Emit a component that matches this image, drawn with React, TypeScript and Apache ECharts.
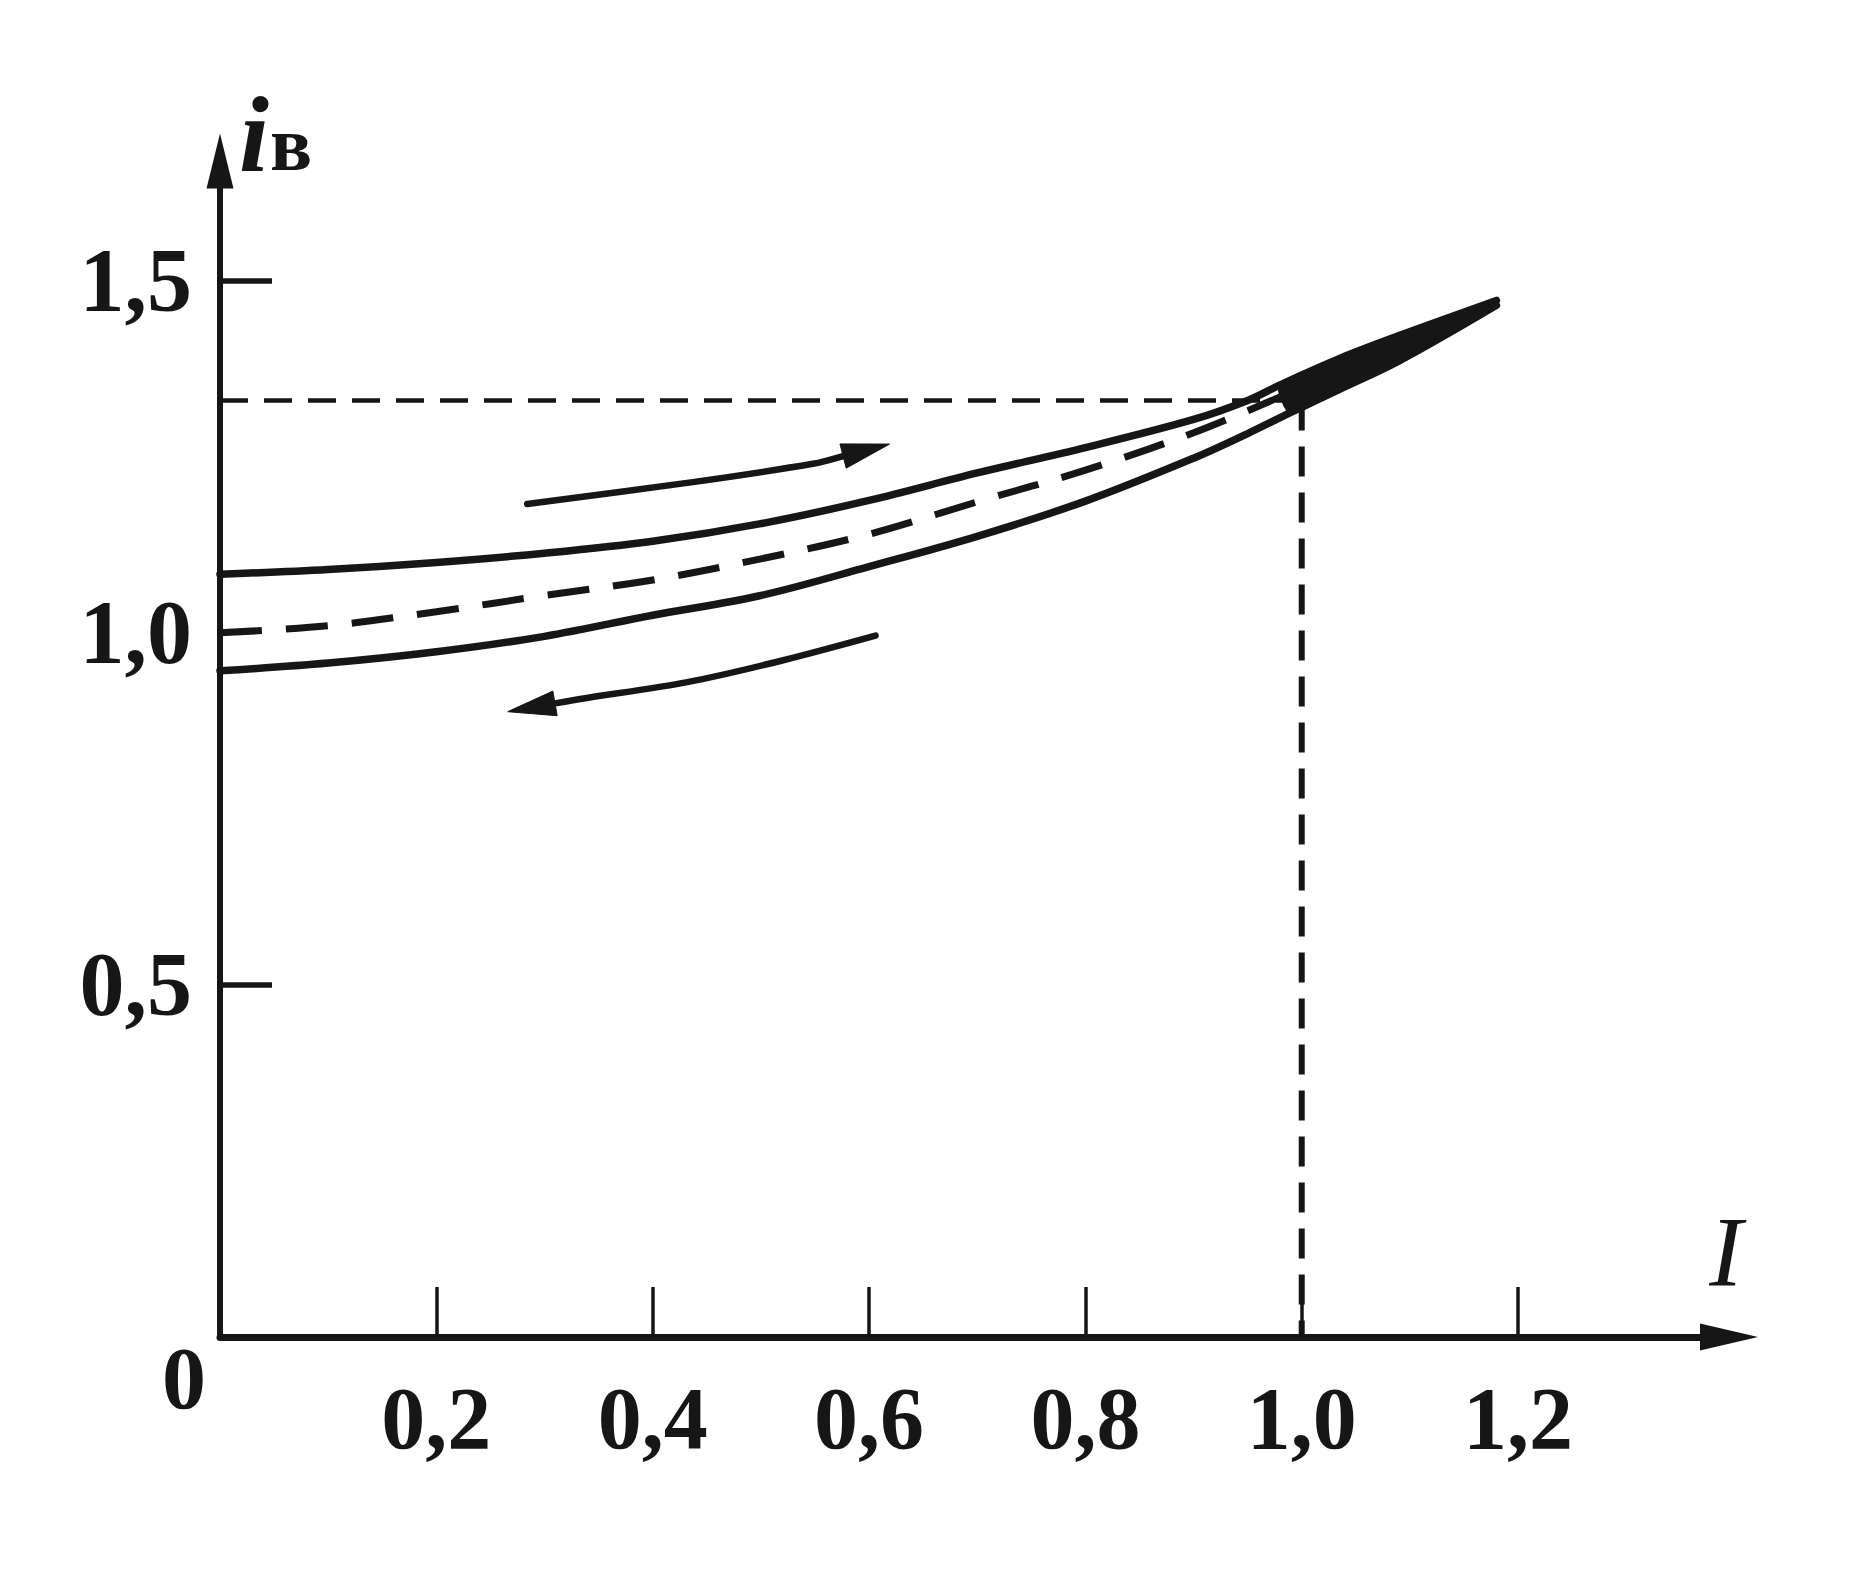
import React, { useEffect, useRef } from "react";
import * as echarts from "echarts";

// Tick values and labels
const X_TICKS = [0.2, 0.4, 0.6, 0.8, 1.0, 1.2];
const Y_TICKS = [0.5, 1.5];
const Y_LABELS = [0.5, 1.0, 1.5];

// Rising branch (upper solid curve) [I, iв]
const RISING = [
  [0, 1.083], [0.1, 1.09], [0.2, 1.1], [0.3, 1.113], [0.4, 1.13], [0.5, 1.155],
  [0.6, 1.188], [0.7, 1.227], [0.8, 1.263], [0.9, 1.303], [0.95, 1.33], [0.98, 1.352],
  [1.034, 1.389], [1.09, 1.422], [1.18, 1.472],
];
// Falling branch (lower solid curve)
const FALLING = [
  [0, 0.946], [0.1, 0.957], [0.2, 0.973], [0.3, 0.995], [0.4, 1.025], [0.5, 1.053],
  [0.6, 1.094], [0.7, 1.137], [0.8, 1.187], [0.9, 1.248], [0.95, 1.283], [0.99, 1.313],
  [1.034, 1.345], [1.09, 1.386], [1.18, 1.465],
];
// Middle (dashed) curve
const MIDDLE = [
  [0, 1.0], [0.1, 1.01], [0.2, 1.03], [0.3, 1.053], [0.4, 1.075], [0.5, 1.105],
  [0.6, 1.14], [0.7, 1.186], [0.8, 1.231], [0.9, 1.284], [0.98, 1.335],
];
// Operating point guide lines
const H_GUIDE = [[0, 1.33], [1.0, 1.33]];
const V_GUIDE = [[1.0, 1.33], [1.0, 0]];
// Direction arrows (last point = tip)
const ARROW_UP = [[0.284, 1.183], [0.437, 1.214], [0.548, 1.24], [0.619, 1.268]];
const ARROW_DOWN = [[0.606, 0.996], [0.518, 0.96], [0.432, 0.93], [0.333, 0.906], [0.266, 0.888]];
const ARROWS = [ARROW_UP, ARROW_DOWN];
// Spike region start
const SPIKE_FROM = 0.98;

const INK = "#161616";
const SERIF = "'Liberation Serif', 'DejaVu Serif', serif";
const fmt = (v: number) => v.toFixed(1).replace(".", ",");

export default function App() {
  const ref = useRef<HTMLDivElement>(null);

  useEffect(() => {
    if (!ref.current) return;
    const chart = echarts.init(ref.current, null, { renderer: "svg" });

    const spikePoly = [
      ...RISING.filter((p) => p[0] >= SPIKE_FROM),
      ...FALLING.filter((p) => p[0] >= SPIKE_FROM).reverse(),
    ];

    const curveStyle = { color: INK, width: 7.5, cap: "round" };

    const option: any = {
      animation: false,
      backgroundColor: "#ffffff",
      grid: { left: 220, right: 127, top: 161, bottom: 251 },
      xAxis: {
        type: "value",
        min: 0,
        max: 1.395,
        axisLine: {
          show: true,
          onZero: false,
          symbol: ["none", "triangle"],
          symbolSize: [27, 58],
          lineStyle: { color: INK, width: 7 },
        },
        axisTick: {
          show: true,
          inside: true,
          length: 50,
          customValues: X_TICKS,
          lineStyle: { color: INK, width: 3.5 },
        },
        axisLabel: {
          customValues: X_TICKS,
          formatter: (v: number) => fmt(v),
          margin: 37,
          color: INK,
          fontFamily: SERIF,
          fontWeight: "bold",
          fontSize: 88,
        },
        splitLine: { show: false },
      },
      yAxis: {
        type: "value",
        min: 0,
        max: 1.67,
        axisLine: {
          show: true,
          onZero: false,
          symbol: ["none", "triangle"],
          symbolSize: [27, 55],
          lineStyle: { color: INK, width: 6 },
        },
        axisTick: {
          show: true,
          inside: true,
          length: 52,
          customValues: Y_TICKS,
          lineStyle: { color: INK, width: 5.5 },
        },
        axisLabel: {
          customValues: Y_LABELS,
          formatter: (v: number) => fmt(v),
          margin: 28,
          color: INK,
          fontFamily: SERIF,
          fontWeight: "bold",
          fontSize: 90,
        },
        splitLine: { show: false },
      },
      series: [
        {
          type: "custom",
          name: "spike",
          clip: false,
          silent: true,
          data: [spikePoly[0]],
          renderItem: (params: any, api: any) => ({
            type: "polygon",
            shape: { points: spikePoly.map((p) => api.coord(p)), smooth: 0.2 },
            style: { fill: INK, stroke: INK, lineWidth: 4, lineJoin: "round" },
          }),
          z: 1,
        },
        {
          type: "line",
          name: "rising",
          data: RISING,
          smooth: 0.35,
          showSymbol: false,
          lineStyle: curveStyle,
          z: 3,
        },
        {
          type: "line",
          name: "falling",
          data: FALLING,
          smooth: 0.35,
          showSymbol: false,
          lineStyle: curveStyle,
          z: 3,
        },
        {
          type: "line",
          name: "middle",
          data: MIDDLE,
          smooth: 0.35,
          showSymbol: false,
          lineStyle: { color: INK, width: 7, type: [42, 24] },
          z: 3,
        },
        {
          type: "line",
          name: "hGuide",
          data: H_GUIDE,
          showSymbol: false,
          lineStyle: { color: INK, width: 4.5, type: [28, 16] },
          z: 2,
        },
        {
          type: "line",
          name: "vGuide",
          data: V_GUIDE,
          showSymbol: false,
          lineStyle: { color: INK, width: 6, type: [30, 16] },
          z: 2,
        },
        {
          type: "custom",
          name: "arrows",
          clip: false,
          silent: true,
          data: ARROWS.map((a) => a[a.length - 1]),
          renderItem: (params: any, api: any) => {
            const arr = ARROWS[params.dataIndex];
            const pts = arr.map((p) => api.coord(p));
            const n = pts.length;
            const tip = pts[n - 1];
            const prev = pts[n - 2];
            let dx = tip[0] - prev[0];
            let dy = tip[1] - prev[1];
            const len = Math.hypot(dx, dy) || 1;
            dx /= len;
            dy /= len;
            const headLen = 48;
            const headW = 25;
            const base = [tip[0] - dx * headLen, tip[1] - dy * headLen];
            const px = -dy;
            const py = dx;
            const body = [...pts.slice(0, n - 1), base];
            const head = [
              tip,
              [base[0] + (px * headW) / 2, base[1] + (py * headW) / 2],
              [base[0] - (px * headW) / 2, base[1] - (py * headW) / 2],
            ];
            return {
              type: "group",
              children: [
                {
                  type: "polyline",
                  shape: { points: body, smooth: 0.3 },
                  style: { stroke: INK, lineWidth: 6.5, fill: null, lineCap: "round" },
                },
                {
                  type: "polygon",
                  shape: { points: head },
                  style: { fill: INK, stroke: INK, lineWidth: 1 },
                },
              ],
            };
          },
          z: 3,
        },
      ],
    };

    chart.setOption(option);

    const o = chart.convertToPixel({ gridIndex: 0 }, [0, 0]) as number[];
    const xEnd = chart.convertToPixel({ gridIndex: 0 }, [1.395, 0]) as number[];
    const yEnd = chart.convertToPixel({ gridIndex: 0 }, [0, 1.67]) as number[];

    chart.setOption({
      graphic: [
        {
          type: "text",
          x: o[0] - 36,
          y: o[1] + 41,
          style: {
            text: "0",
            fill: INK,
            font: `bold 88px ${SERIF}`,
            textAlign: "center",
            textVerticalAlign: "middle",
          },
        },
        {
          type: "text",
          x: xEnd[0] - 3,
          y: xEnd[1] - 86,
          style: {
            text: "I",
            fill: INK,
            font: `italic 100px ${SERIF}`,
            textAlign: "center",
            textVerticalAlign: "middle",
          },
        },
        {
          type: "text",
          x: yEnd[0] + 34,
          y: yEnd[1] - 27,
          style: {
            text: "i",
            fill: INK,
            font: `italic bold 108px ${SERIF}`,
            textAlign: "center",
            textVerticalAlign: "middle",
          },
        },
        {
          type: "text",
          x: yEnd[0] + 50,
          y: yEnd[1] - 18,
          style: {
            text: "в",
            fill: INK,
            font: `bold 78px ${SERIF}`,
            textAlign: "left",
            textVerticalAlign: "middle",
          },
        },
      ],
    });

    return () => chart.dispose();
  }, []);

  return (
    <div
      ref={ref}
      style={{ position: "absolute", left: 0, top: 0, width: 1856, height: 1588 }}
    />
  );
}
